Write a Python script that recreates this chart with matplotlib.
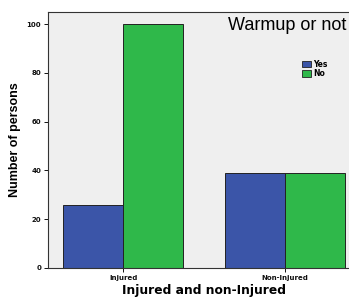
import numpy as np
import matplotlib
matplotlib.use("Agg")
import matplotlib.pyplot as plt
from matplotlib.patches import Patch

plt.rcParams['font.family'] = ['Liberation Sans', 'DejaVu Sans']

categories = ["Injured", "Non-Injured"]
series = ["Yes", "No"]
yes_vals = [26, 39]
no_vals = [100, 39]
colors = ["#3b55a8", "#2fb84a"]

fig = plt.figure(figsize=(3.49, 3.0), dpi=100)
ax = fig.add_axes([48/349, 32/300, 312/349, 256/300])
ax.set_facecolor("#efefef")

x = np.arange(len(categories))
w = 0.371
ax.bar(x - w/2, yes_vals, w, color=colors[0], edgecolor="#222222", linewidth=0.7)
ax.bar(x + w/2, no_vals, w, color=colors[1], edgecolor="#222222", linewidth=0.7)

ax.set_xlim(-0.466, 1.466)
ax.set_ylim(0, 105)
ax.set_yticks([0, 20, 40, 60, 80, 100])
ax.set_xticks(x)
ax.set_xticklabels(categories, fontsize=5, fontweight="bold", family="DejaVu Sans")
for lab in ax.get_yticklabels():
    lab.set_fontsize(5)
    lab.set_fontweight("bold")
    lab.set_family("DejaVu Sans")
ax.tick_params(axis="both", length=3, width=0.7, pad=2, colors="#111111")
for s in ax.spines.values():
    s.set_color("#333333")
    s.set_linewidth(0.8)

ax.set_ylabel("Number of persons", fontsize=9, fontweight="bold", labelpad=4)
fig.text(204/349, 3/300, "Injured and non-Injured", ha="center", va="bottom",
         fontsize=8.8, fontweight="bold", family="DejaVu Sans")

fig.text(228/349, 1 - 17/300, "Warmup or not", ha="left", va="top", fontsize=13)

handles = [Patch(facecolor=colors[i], edgecolor="#222222", linewidth=0.6) for i in range(2)]
fig.legend(handles, series, loc="upper left", bbox_to_anchor=(298/349, 1 - 56/300),
           frameon=False, handlelength=1.2, handleheight=0.9,
           handletextpad=0.3, labelspacing=0.05, borderpad=0,
           prop={"weight": "bold", "size": 5.5, "family": "DejaVu Sans"})

fig.savefig("out.png", dpi=100)
